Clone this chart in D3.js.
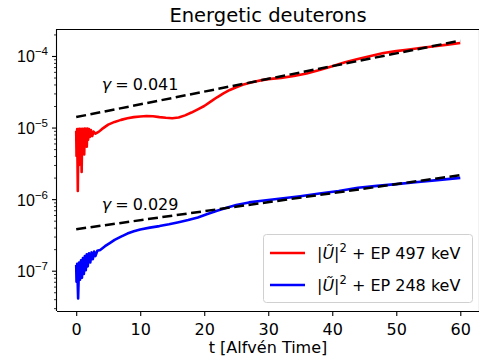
<!DOCTYPE html>
<html><head><meta charset="utf-8">
<script src="https://cdn.jsdelivr.net/npm/d3@7"></script>
<style>
html,body{margin:0;padding:0;background:#fff;}
svg{display:block;font-family:"DejaVu Sans",sans-serif;}
</style></head>
<body>
<svg id="chart" width="479" height="358"></svg>
<script>
// ---- data ----
const titleText = "Energetic deuterons";
const xLabel = "t [Alfvén Time]";
const xTicks = [0, 10, 20, 30, 40, 50, 60];
const yMajorExps = [-7, -6, -5, -4];

// red series: |U|^2 + EP 497 keV
const redT = [0,0.05,0.15,0.25,0.35,0.45,0.55,0.65,0.75,0.85,0.95,1.05,1.15,1.25,1.35,1.45,1.55,1.65,1.75,1.85,2.0,2.15,2.3,2.5,2.7,3.0,3.5,4,5,6,7,8,9,10,11,12,13,14,15,16,17,18,19,20,21,22,23,24,25,26,27,28,29,30,32,34,36,38,40,42,44,46,48,50,52,54,56,58,60];
const redV = [9e-6,4e-6,9.5e-6,1.3e-6,9.5e-6,3e-6,9.6e-6,3.4e-6,9.5e-6,2.4e-6,9.6e-6,4.6e-6,9.5e-6,4.2e-6,9.7e-6,5.7e-6,9.5e-6,5.4e-6,9.7e-6,6.7e-6,9.5e-6,7.4e-6,9.2e-6,7.6e-6,8.8e-6,8.2e-6,8.7e-6,9.5e-6,1.1e-5,1.2e-5,1.28e-5,1.35e-5,1.4e-5,1.43e-5,1.45e-5,1.44e-5,1.4e-5,1.37e-5,1.35e-5,1.38e-5,1.48e-5,1.62e-5,1.8e-5,2.0e-5,2.3e-5,2.65e-5,3.0e-5,3.35e-5,3.65e-5,3.95e-5,4.2e-5,4.4e-5,4.6e-5,4.75e-5,4.95e-5,5.25e-5,5.7e-5,6.35e-5,7.2e-5,8.2e-5,9.1e-5,1.0e-4,1.1e-4,1.17e-4,1.23e-4,1.3e-4,1.37e-4,1.44e-4,1.52e-4];

// blue series: |U|^2 + EP 248 keV
const blueT = [0,0.05,0.15,0.3,0.45,0.6,0.75,0.9,1.05,1.2,1.35,1.5,1.65,1.8,2.0,2.2,2.4,2.6,2.8,3.0,3.3,3.75,4.5,5.3,6,7,8,9,10,11.5,13,14.5,16,17.5,19,20.5,22,23.5,25,27,29,32,35,38,41,44,47,50,53,56,60];
const blueV = [1.2e-7,7e-8,1.25e-7,4.1e-8,1.3e-7,7.5e-8,1.4e-7,8e-8,1.5e-7,9e-8,1.6e-7,1.02e-7,1.7e-7,1.15e-7,1.75e-7,1.3e-7,1.8e-7,1.45e-7,1.85e-7,1.6e-7,1.9e-7,1.95e-7,2.2e-7,2.45e-7,2.7e-7,3.0e-7,3.3e-7,3.55e-7,3.77e-7,4.0e-7,4.2e-7,4.45e-7,4.75e-7,5.1e-7,5.55e-7,6.2e-7,6.9e-7,7.6e-7,8.3e-7,9.0e-7,9.5e-7,1.02e-6,1.1e-6,1.2e-6,1.3e-6,1.44e-6,1.53e-6,1.62e-6,1.72e-6,1.83e-6,1.98e-6];

// exponential fits
const fitGammas = [0.041, 0.029];
const fitAmps = [1.4e-5, 3.8e-7];
const fitRange = [0, 60];
const fitLabels = ["0.041", "0.029"];
const fitLabelPos = [[4, 3.4e-5], [4, 7.0e-7]];

const seriesNames = ["497 keV", "248 keV"];
const seriesColors = ["#ff0000", "#0000ff"];

// ---- drawing ----
const svg = d3.select("#chart");
const L = 57, R = 479.5, T = 29, B = 311;
const x = d3.scaleLinear().domain([-3, 63]).range([L, R]);
const y = d3.scaleLog().domain([Math.pow(10, -7.563), Math.pow(10, -3.623)]).range([B, T]);

const FS = 16;

// title
svg.append("text").attr("x", (L + 479) / 2).attr("y", 22).attr("text-anchor", "middle")
  .attr("font-size", 19.5).attr("fill", "#000").text(titleText);

// lines
const line = d3.line().x(d => x(d[0])).y(d => y(d[1]));
const series = [d3.zip(redT, redV), d3.zip(blueT, blueV)];
const clip = svg.append("clipPath").attr("id", "clip").append("rect")
  .attr("x", L).attr("y", T).attr("width", R - L).attr("height", B - T);
const plot = svg.append("g").attr("clip-path", "url(#clip)");
series.forEach((s, i) => {
  plot.append("path").datum(s).attr("d", line).attr("fill", "none")
    .attr("stroke", seriesColors[i]).attr("stroke-width", 2.6).attr("stroke-linejoin", "round");
});

// fits
fitGammas.forEach((g, i) => {
  const pts = fitRange.map(t => [t, fitAmps[i] * Math.exp(g * t)]);
  plot.append("path").datum(pts).attr("d", line).attr("fill", "none")
    .attr("stroke", "#000").attr("stroke-width", 2.5).attr("stroke-dasharray", "10,4.5");
  const tx = svg.append("text").attr("x", x(fitLabelPos[i][0])).attr("y", y(fitLabelPos[i][1]))
    .attr("font-size", FS).attr("fill", "#000");
  tx.append("tspan").attr("font-style", "italic").text("γ");
  tx.append("tspan").attr("dx", 4).text("=");
  tx.append("tspan").attr("dx", 4).text(fitLabels[i]);
});

// x axis
const xAxis = d3.axisBottom(x).tickValues(xTicks).tickSize(5).tickSizeOuter(0).tickPadding(4);
const gx = svg.append("g").attr("transform", `translate(0,${B})`).call(xAxis);
gx.select(".domain").attr("stroke", "#000").attr("stroke-width", 1.1).attr("d", `M${L},0.5H${R}`);
gx.selectAll(".tick line").attr("stroke", "#000").attr("stroke-width", 1.1);
gx.selectAll(".tick text").attr("font-size", FS).attr("font-family", "DejaVu Sans").attr("fill", "#000").attr("dy", "0.95em");

// y axis major
const yMajor = yMajorExps.map(e => Math.pow(10, e));
const yAxis = d3.axisLeft(y).tickValues(yMajor).tickSize(5).tickSizeOuter(0).tickFormat("");
const gy = svg.append("g").attr("transform", `translate(${L},0)`).call(yAxis);
gy.select(".domain").attr("stroke", "#000").attr("stroke-width", 1.1).attr("d", `M-0.5,${T}V${B}`);
gy.selectAll(".tick line").attr("stroke", "#000").attr("stroke-width", 1.1);
gy.selectAll(".tick").each(function(d, i) {
  const t = d3.select(this).append("text").attr("x", -9).attr("y", 6).attr("text-anchor", "end")
    .attr("font-size", FS).attr("fill", "#000");
  t.append("tspan").text("10");
  t.append("tspan").attr("font-size", 11.5).attr("dy", -7).text("−" + Math.abs(yMajorExps[i]));
});

// y axis minor
const yMinor = [];
for (let e = -8; e <= -4; e++) for (let m = 2; m <= 9; m++) {
  const v = m * Math.pow(10, e);
  if (v >= y.domain()[0] && v <= y.domain()[1]) yMinor.push(v);
}
const gym = svg.append("g").attr("transform", `translate(${L},0)`)
  .call(d3.axisLeft(y).tickValues(yMinor).tickSize(3).tickFormat(""));
gym.select(".domain").remove();
gym.selectAll(".tick line").attr("stroke", "#000").attr("stroke-width", 0.8);

// top & right spines
svg.append("line").attr("x1", L - 1).attr("x2", R).attr("y1", T + 0.5).attr("y2", T + 0.5).attr("stroke", "#000").attr("stroke-width", 1.1);
svg.append("line").attr("x1", R).attr("x2", R).attr("y1", T).attr("y2", B).attr("stroke", "#000").attr("stroke-width", 1.1);

// x label
svg.append("text").attr("x", (L + 479) / 2).attr("y", 353).attr("text-anchor", "middle")
  .attr("font-size", FS).attr("fill", "#000").text(xLabel);

// legend
const lg = svg.append("g");
lg.append("rect").attr("x", 263.5).attr("y", 234.5).attr("width", 209).attr("height", 68)
  .attr("rx", 3).attr("fill", "#fff").attr("fill-opacity", 0.8).attr("stroke", "#d0d0d0").attr("stroke-width", 1);
seriesNames.forEach((n, i) => {
  const ly = 253 + i * 32;
  lg.append("line").attr("x1", 270).attr("x2", 305).attr("y1", ly).attr("y2", ly)
    .attr("stroke", seriesColors[i]).attr("stroke-width", 2.4);
  const t = lg.append("text").attr("x", 317).attr("y", ly + 6).attr("font-size", FS).attr("fill", "#000");
  t.append("tspan").text("|");
  t.append("tspan").attr("font-style", "italic").text("Ũ");
  t.append("tspan").text("|");
  t.append("tspan").attr("font-size", 11.5).attr("dy", -7).text("2");
  t.append("tspan").attr("dy", 7).text(" + EP " + n);
});
</script>
</body></html>
